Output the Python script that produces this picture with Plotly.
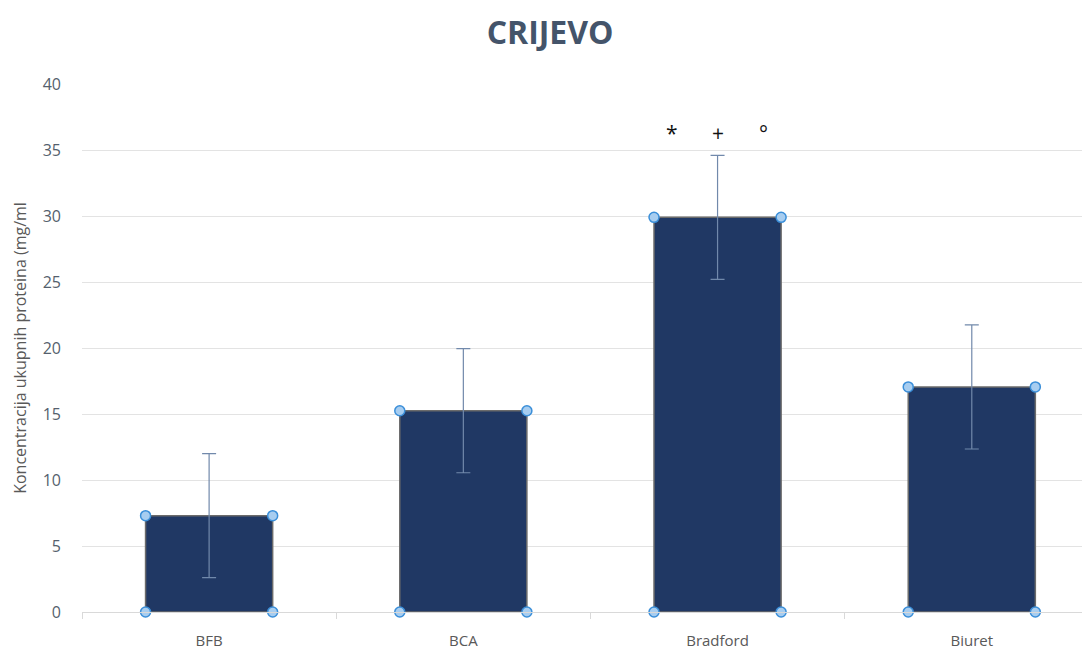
import plotly.graph_objects as go

categories = ["BFB", "BCA", "Bradford", "Biuret"]
values = [7.3, 15.25, 29.9, 17.05]
errors = [4.7, 4.7, 4.7, 4.7]
y_ticks = [0, 5, 10, 15, 20, 25, 30, 35, 40]
sig_symbols = ["*", "+", "°"]
sig_offsets = [-0.18, 0.0, 0.18]
sig_category = 2
sig_y = 36.3

xpos = list(range(len(categories)))
bar_w = 0.5

fig = go.Figure()
fig.add_trace(go.Bar(
    x=xpos, y=values, width=bar_w,
    marker=dict(color="#203864", line=dict(color="#6b6b6b", width=1.5)),
    error_y=dict(type="data", array=errors, visible=True, color="#7189ab",
                 thickness=1.2, width=7),
    showlegend=False, hoverinfo="skip",
))

# selection handle markers at bar corners
cx, cy = [], []
for i, v in zip(xpos, values):
    for dx in (-bar_w / 2, bar_w / 2):
        for yy in (0, v):
            cx.append(i + dx)
            cy.append(yy)
fig.add_trace(go.Scatter(
    x=cx, y=cy, mode="markers", cliponaxis=False,
    marker=dict(size=10, color="#a7cdf0", line=dict(color="#3b8fd9", width=1.5)),
    showlegend=False, hoverinfo="skip",
))

for s, off in zip(sig_symbols, sig_offsets):
    fig.add_annotation(x=sig_category + off, y=sig_y, text=s, showarrow=False,
                       font=dict(family="Open Sans", size=21, color="#111111"),
                       xanchor="center", yanchor="middle")

fig.update_layout(
    width=1082, height=642,
    margin=dict(l=74, r=0, t=76, b=38),
    paper_bgcolor="white", plot_bgcolor="white",
    title=dict(text="<b>CRIJEVO</b>", x=0.501, xanchor="center", y=0.962, yanchor="middle",
               font=dict(family="Open Sans", size=32, color="#44546a")),
    font=dict(family="Open Sans", color="#595959"),
    bargap=0.5,
)
fig.update_xaxes(
    range=[-0.5, 3.465], tickmode="array", tickvals=xpos, ticktext=categories,
    ticks="", showgrid=False, showline=True, linecolor="#d9d9d9", linewidth=1,
    zeroline=False, tickfont=dict(size=15, color="#595959"), automargin=False,
    ticklabelstandoff=15,
    minor=dict(tickmode="array", tickvals=[-0.5, 0.5, 1.5, 2.5], ticks="outside",
               ticklen=6, tickcolor="#d9d9d9", showgrid=False),
)
fig.update_yaxes(
    range=[0, 40], tickmode="array", tickvals=y_ticks, automargin=False,
    showgrid=True, gridcolor="#e3e3e3", gridwidth=1, zeroline=False,
    ticks="", ticklabelstandoff=20, tickfont=dict(size=16, color="#555f6d"),
    title=dict(text="Koncentracija ukupnih proteina (mg/ml", standoff=12,
               font=dict(size=16, color="#595959")),
)

fig.write_html("out.html")
